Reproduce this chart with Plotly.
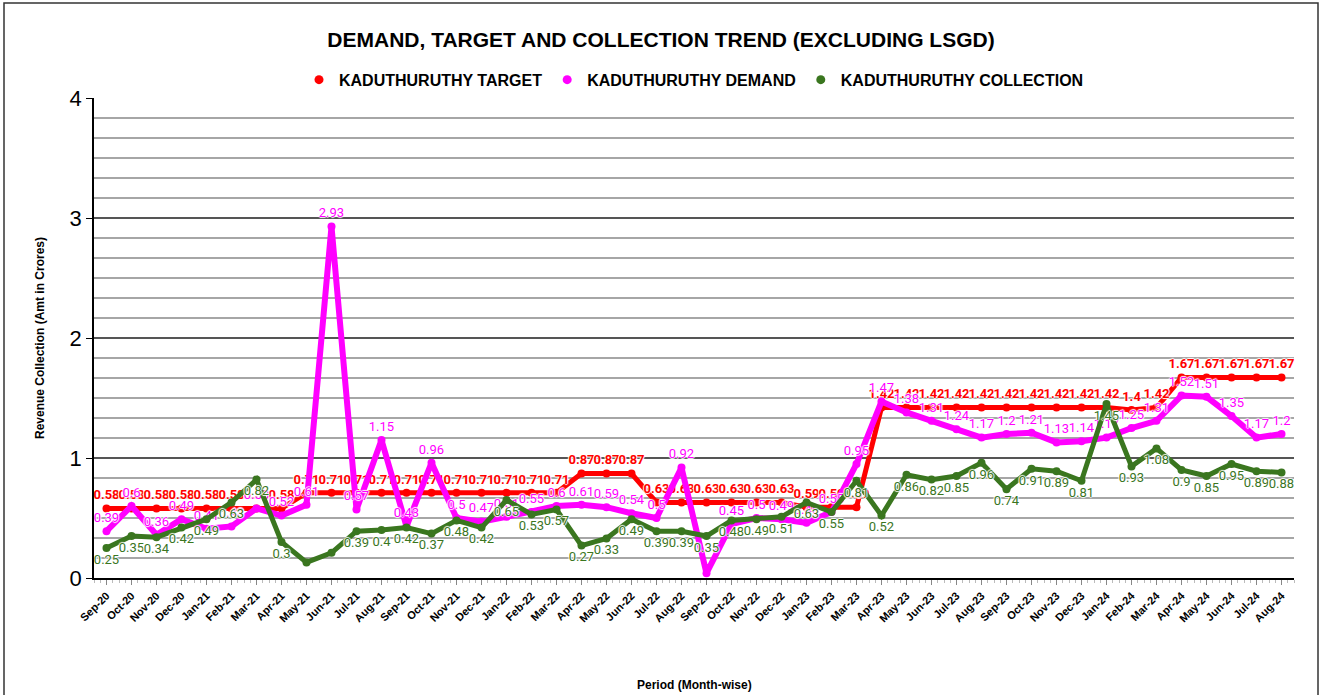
import plotly.graph_objects as go

months = ["Sep-20","Oct-20","Nov-20","Dec-20","Jan-21","Feb-21","Mar-21","Apr-21","May-21","Jun-21",
          "Jul-21","Aug-21","Sep-21","Oct-21","Nov-21","Dec-21","Jan-22","Feb-22","Mar-22","Apr-22",
          "May-22","Jun-22","Jul-22","Aug-22","Sep-22","Oct-22","Nov-22","Dec-22","Jan-23","Feb-23",
          "Mar-23","Apr-23","May-23","Jun-23","Jul-23","Aug-23","Sep-23","Oct-23","Nov-23","Dec-23",
          "Jan-24","Feb-24","Mar-24","Apr-24","May-24","Jun-24","Jul-24","Aug-24"]

target = [0.58,0.58,0.58,0.58,0.58,0.58,0.58,0.58,0.71,0.71,
          0.71,0.71,0.71,0.71,0.71,0.71,0.71,0.71,0.71,0.87,
          0.87,0.87,0.63,0.63,0.63,0.63,0.63,0.63,0.59,0.59,
          0.59,1.42,1.42,1.42,1.42,1.42,1.42,1.42,1.42,1.42,
          1.42,1.40,1.42,1.67,1.67,1.67,1.67,1.67]

demand = [0.39,0.60,0.36,0.49,0.41,0.43,0.58,0.52,0.61,2.93,
          0.57,1.15,0.43,0.96,0.50,0.47,0.51,0.55,0.60,0.61,
          0.59,0.54,0.50,0.92,0.04,0.45,0.50,0.49,0.46,0.55,
          0.95,1.47,1.38,1.31,1.24,1.17,1.20,1.21,1.13,1.14,
          1.17,1.25,1.31,1.52,1.51,1.35,1.17,1.20]

collection = [0.25,0.35,0.34,0.42,0.49,0.63,0.82,0.30,0.13,0.21,
              0.39,0.40,0.42,0.37,0.48,0.42,0.65,0.53,0.57,0.27,
              0.33,0.49,0.39,0.39,0.35,0.48,0.49,0.51,0.63,0.55,
              0.81,0.52,0.86,0.82,0.85,0.96,0.74,0.91,0.89,0.81,
              1.45,0.93,1.08,0.90,0.85,0.95,0.89,0.88]

series_names = ["KADUTHURUTHY TARGET", "KADUTHURUTHY DEMAND", "KADUTHURUTHY COLLECTION"]
series_colors = ["#ff0000", "#ff00ff", "#3a761f"]

# labels not drawn in the reference (hidden by overlap)
demand_hidden = ["Sep-22"]
collection_hidden = ["May-21", "Jun-21"]

HALO = "1px 0px 1px white, -1px 0px 1px white, 0px 1px 1px white, 0px -1px 1px white"

def fmt(v):
    return f"{v:g}"

x = list(range(len(months)))

fig = go.Figure()
fig.add_trace(go.Scatter(
    x=x, y=target, name=series_names[0], mode="lines+markers+text", showlegend=False,
    line=dict(color=series_colors[0], width=5), marker=dict(color=series_colors[0], size=8),
    text=[fmt(v) for v in target], textposition="top center",
    textfont=dict(color=series_colors[0], size=13, family="Roboto", weight="bold", shadow=HALO),
    cliponaxis=False,
))
fig.add_trace(go.Scatter(
    x=x, y=demand, name=series_names[1], mode="lines+markers+text", showlegend=False,
    line=dict(color=series_colors[1], width=6), marker=dict(color=series_colors[1], size=8),
    text=["" if m in demand_hidden else fmt(v) for m, v in zip(months, demand)],
    textposition="top center",
    textfont=dict(color=series_colors[1], size=13, family="Roboto", shadow=HALO),
    cliponaxis=False,
))
fig.add_trace(go.Scatter(
    x=x, y=collection, name=series_names[2], mode="lines+markers+text", showlegend=False,
    line=dict(color=series_colors[2], width=5), marker=dict(color=series_colors[2], size=8),
    text=["" if m in collection_hidden else fmt(v) for m, v in zip(months, collection)],
    textposition="bottom center",
    textfont=dict(color=series_colors[2], size=13, family="Roboto", shadow=HALO),
    cliponaxis=False,
))
# legend entries drawn as dots only, like the reference
for n, c in zip(series_names, series_colors):
    fig.add_trace(go.Scatter(x=[None], y=[None], name=n, mode="markers",
                             marker=dict(color=c, size=9), showlegend=True))

fig.update_layout(
    width=1322, height=695,
    paper_bgcolor="white", plot_bgcolor="white",
    margin=dict(l=94, r=28, t=98, b=117),
    title=dict(text="<b>DEMAND, TARGET AND COLLECTION TREND (EXCLUDING LSGD)</b>",
               x=0.5, xanchor="center", y=1 - 40/695, yanchor="middle",
               font=dict(family="Liberation Sans, Arial", size=21, color="black")),
    legend=dict(orientation="h", x=0.5, xanchor="center", y=1.038, yanchor="middle",
                font=dict(family="Liberation Sans, Arial", size=16, color="black", weight="bold"),
                itemwidth=30, traceorder="normal", tracegroupgap=0),
    showlegend=True,
    xaxis=dict(
        range=[-0.5, len(months) - 0.5],
        tickvals=x, ticktext=months, tickangle=-45,
        tickfont=dict(family="Liberation Sans, Arial", size=11, color="black", weight="bold"),
        showgrid=False, zeroline=False,
        showline=True, linecolor="black", linewidth=2,
        ticks="outside", ticklen=5, tickcolor="#888",
        minor=dict(dtick=0.25, tick0=0, ticks="outside", ticklen=3, tickcolor="#bbb", showgrid=False),
    ),
    yaxis=dict(
        range=[0, 4], dtick=1, tick0=0,
        tickfont=dict(family="Liberation Sans, Arial", size=22, color="black"),
        showgrid=True, gridcolor="#555", gridwidth=1.5,
        zeroline=False,
        showline=True, linecolor="black", linewidth=1.5,
        ticks="outside", ticklen=6, tickcolor="black",
        minor=dict(dtick=1/6, tick0=0, showgrid=True, gridcolor="#a6a6a6", gridwidth=1.5, ticks=""),
    ),
)

fig.add_annotation(text="<b>Period (Month-wise)</b>", xref="paper", yref="paper",
                   x=0.5, y=(578 - 685) / 480, xanchor="center", yanchor="middle", showarrow=False,
                   font=dict(family="Liberation Sans, Arial", size=12, color="black"))
fig.add_annotation(text="<b>Revenue Collection (Amt in Crores)</b>", xref="paper", yref="paper",
                   x=(40 - 94) / 1200, y=0.5, xanchor="center", yanchor="middle", textangle=-90,
                   showarrow=False,
                   font=dict(family="Liberation Sans, Arial", size=12, color="black"))

fig.add_shape(type="rect", xref="paper", yref="paper",
              x0=(4 - 94) / 1200, x1=(1318 - 94) / 1200,
              y0=(578 - 720) / 480, y1=(578 - 3) / 480,
              line=dict(color="#333", width=1.5), fillcolor="rgba(0,0,0,0)", layer="below")

fig.write_html("out.html", config={"displayModeBar": False},
               post_script="document.body.style.margin='0';document.body.style.overflow='hidden';")
